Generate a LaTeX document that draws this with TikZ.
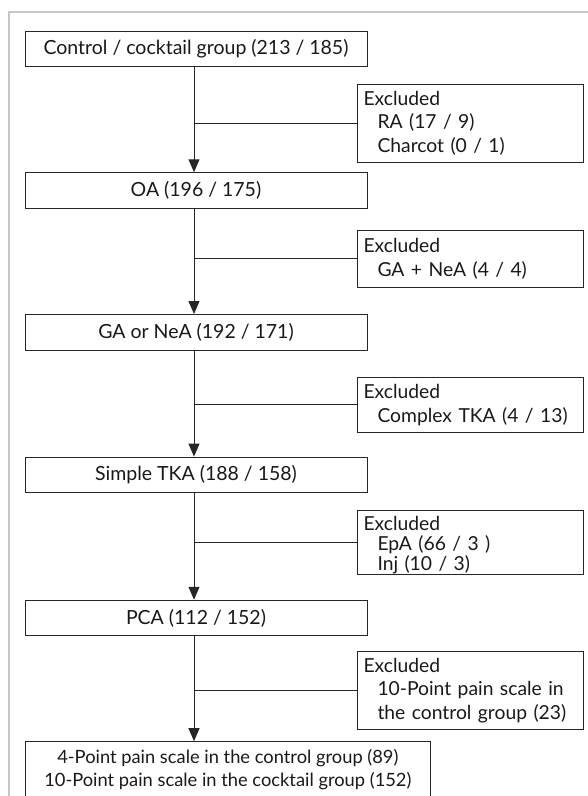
\documentclass[tikz,border=0pt]{standalone}
\usepackage{fontspec}
\setmainfont{Lato}
\usetikzlibrary{arrows.meta}
\newcommand{\indentbox}{\makebox[14pt]{}}
\begin{document}
\begin{tikzpicture}[x=1pt,y=-1pt,
  box/.style={draw=black!85, line width=1pt, inner sep=0pt, minimum height=35.5pt, minimum width=342pt, align=center, text=black!90, font=\fontsize{19.5}{23.5}\selectfont},
  exbox/.style={draw=black!85, line width=1pt, inner xsep=6pt, inner ysep=0pt, text width=214pt, align=left, anchor=west, text=black!90, font=\fontsize{19.3}{23.5}\selectfont},
  flow/.style={draw=black!85, line width=1pt, -{Triangle[width=11pt,length=13pt]}},
  branch/.style={draw=black!85, line width=1pt},
  frameline/.style={draw=black!22, line width=1.5pt}]
\useasboundingbox (0,0) rectangle (588,796);
\clip (0,0) rectangle (588,796);
\draw[frameline] (9,800) -- (9,12) -- (592,12);

% main column
\node[box] (a) at (196,48.85) {Control / cocktail group (213 / 185)};
\node[box] (b) at (196,190.5) {OA (196 / 175)};
\node[box] (c) at (196,332.25) {GA or NeA (192 / 171)};
\node[box] (d) at (196,474.85) {Simple TKA (188 / 158)};
\node[box] (e) at (196,618) {PCA (112 / 152)};
\node[box, minimum width=405.7pt, minimum height=55.8pt, font=\fontsize{18.3}{23}\selectfont] (f) at (227.85,769.6)
  {4-Point pain scale in the control group (89)\\10-Point pain scale in the cocktail group (152)};

% excluded boxes
\node[exbox, minimum height=78pt] (x1) at (357,123)
  {Excluded\\\indentbox RA (17 / 9)\\\indentbox Charcot (0 / 1)};
\node[exbox, minimum height=56.3pt] (x2) at (357,258.85)
  {Excluded\\\indentbox GA + NeA (4 / 4)};
\node[exbox, minimum height=55.7pt] (x3) at (357,404.85)
  {Excluded\\\indentbox Complex TKA (4 / 13)};
\node[exbox, minimum height=59pt] (x4) at (357,542.5)
  {\raisebox{-3pt}[\height][\depth]{\begin{tabular}{@{}l@{}}Excluded\\[-3.5pt]\hspace{14pt}EpA (66 / 3 )\\[-3.5pt]\hspace{14pt}Inj (10 / 3)\end{tabular}}};
\node[exbox, minimum height=77.3pt] (x5) at (357,690.35)
  {Excluded\\\indentbox 10-Point pain scale in\\\indentbox the control group (23)};

% flow arrows
\draw[flow] ([xshift=-2pt]a.south) -- ([xshift=-2pt]a.south |- b.north);
\draw[flow] ([xshift=-2pt]b.south) -- ([xshift=-2pt]b.south |- c.north);
\draw[flow] ([xshift=-2pt]c.south) -- ([xshift=-2pt]c.south |- d.north);
\draw[flow] ([xshift=-2pt]d.south) -- ([xshift=-2pt]d.south |- e.north);
\draw[flow] ([xshift=-2pt]e.south) -- ([xshift=-2pt]e.south |- f.north);

% branches
\draw[branch] (x1.west) -- ([xshift=-2pt]x1.west -| a.south);
\draw[branch] (x2.west) -- ([xshift=-2pt]x2.west -| b.south);
\draw[branch] (x3.west) -- ([xshift=-2pt]x3.west -| c.south);
\draw[branch] (x4.west) -- ([xshift=-2pt]x4.west -| d.south);
\draw[branch] (x5.west) -- ([xshift=-2pt]x5.west -| e.south);
\end{tikzpicture}
\end{document}
